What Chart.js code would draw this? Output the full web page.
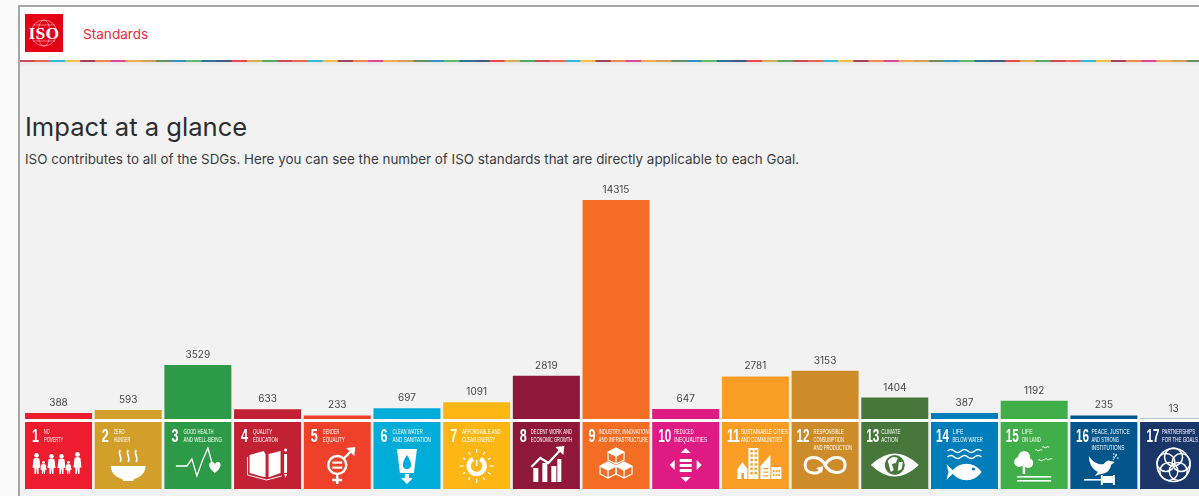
<!DOCTYPE html>
<html><head><meta charset="utf-8">
<script src="https://cdn.jsdelivr.net/npm/chart.js@4"></script>
<style>
html,body{margin:0;padding:0;width:1199px;height:496px;overflow:hidden;background:#fafafa;font-family:Inter,"Noto Sans",sans-serif}
#frame{position:absolute;left:18px;top:5px;width:1190px;height:500px;border-top:2px solid #a6a6a6;border-left:2px solid #a6a6a6;background:#f2f2f2}
#head{position:absolute;left:20px;top:7px;width:1179px;height:53px;background:#fff}
#stripe{position:absolute;left:20px;top:60px;width:1179px;height:2px;opacity:.8}
#shade{position:absolute;left:20px;top:62px;width:1179px;height:5px;background:linear-gradient(#e8e8e8,#f2f2f2)}
#logo{position:absolute;left:25px;top:14px;width:38px;height:38px;background:#e60013;color:#fff;overflow:hidden}
#logo svg{position:absolute;left:0;top:0}
#logo span{position:absolute;left:0;right:0;top:9px;text-align:center;font:bold 17.5px/20px "Liberation Serif",serif;letter-spacing:.2px}
#std{position:absolute;left:83px;top:25px;font-size:13.6px;line-height:18px;color:#ee2b3b}
h1{position:absolute;left:25px;top:110px;margin:0;font-size:25.6px;line-height:34px;font-weight:400;color:#2b2d30}
p{position:absolute;left:25px;top:150px;margin:0;font-size:13.4px;line-height:18px;color:#3a3c3f;white-space:nowrap}
#wrap{position:absolute;left:0;top:0;width:1212px;height:496px}
</style></head><body>
<div id="frame"></div><div id="head"></div><canvas id="stripe" width="1179" height="2"></canvas><div id="shade"></div>
<div id="logo"><svg width="38" height="38" fill="none" stroke="#fff" stroke-opacity=".75" stroke-width=".6"><ellipse cx="19" cy="19" rx="13" ry="13"/><ellipse cx="19" cy="19" rx="6" ry="13"/><path d="M8 11h22M8 27h22"/></svg><span>ISO</span></div>
<div id="std">Standards</div>
<h1>Impact at a glance</h1>
<p>ISO contributes to all of the SDGs. Here you can see the number of ISO standards that are directly applicable to each Goal.</p>
<div id="wrap"><canvas id="c" width="1212" height="496"></canvas></div>
<script>
const goalNumbers=["1","2","3","4","5","6","7","8","9","10","11","12","13","14","15","16","17"];
const goalLabels=[["NO","POVERTY"],["ZERO","HUNGER"],["GOOD HEALTH","AND WELL-BEING"],["QUALITY","EDUCATION"],["GENDER","EQUALITY"],["CLEAN WATER","AND SANITATION"],["AFFORDABLE AND","CLEAN ENERGY"],["DECENT WORK AND","ECONOMIC GROWTH"],["INDUSTRY, INNOVATION","AND INFRASTRUCTURE"],["REDUCED","INEQUALITIES"],["SUSTAINABLE CITIES","AND COMMUNITIES"],["RESPONSIBLE","CONSUMPTION","AND PRODUCTION"],["CLIMATE","ACTION"],["LIFE","BELOW WATER"],["LIFE","ON LAND"],["PEACE, JUSTICE","AND STRONG","INSTITUTIONS"],["PARTNERSHIPS","FOR THE GOALS"]];
const standardsCount=[388,593,3529,633,233,697,1091,2819,14315,647,2781,3153,1404,387,1192,235,13];
const goalColors=["#ed1c2e","#d19f2a","#2d9a47","#c22033","#ef412a","#00add8","#fdb714","#8f1838","#f36e24","#e01a83","#f99d25","#cd8b2a","#48773c","#007dbb","#40ae49","#00558a","#1a3668"];

// header stripe
(function(){const s=document.getElementById('stripe').getContext('2d');
 const w=15.16;for(let i=0;i<90;i++){s.fillStyle=goalColors[(i+3)%17];s.fillRect(i*w-0.5,0,w+.5,2);}})();

function circle(g,x,y,r,fill){g.beginPath();g.arc(x,y,r,0,Math.PI*2);fill?g.fill():g.stroke();}
function poly(g,pts,close){g.beginPath();pts.forEach((p,i)=>i?g.lineTo(p[0],p[1]):g.moveTo(p[0],p[1]));if(close)g.closePath();}
function person(g,x,foot,h,w){const r=h*.11;circle(g,x,foot-h+r,r,true);
 g.beginPath();g.moveTo(x-w,foot-h*.3);g.lineTo(x-w*.75,foot-h*.72);g.quadraticCurveTo(x,foot-h*.82,x+w*.75,foot-h*.72);g.lineTo(x+w,foot-h*.3);g.lineTo(x+w*.55,foot-h*.3);g.lineTo(x+w*.5,foot);g.lineTo(x+.5,foot);g.lineTo(x,foot-h*.35);g.lineTo(x-.5,foot);g.lineTo(x-w*.5,foot);g.lineTo(x-w*.55,foot-h*.3);g.closePath();g.fill();}

const icons=[
 g=>{[[-23,21,4],[-16,13,3],[-8,20,4],[2,20,4],[9,13,3],[18,22,4]].forEach(a=>person(g,a[0]+1,9,a[1],a[2]));},
 g=>{g.beginPath();g.moveTo(-17.5,1);g.lineTo(17.5,1);g.bezierCurveTo(17,10,10,13,6,14);g.lineTo(5,16);g.lineTo(-5,16);g.lineTo(-6,14);g.bezierCurveTo(-10,13,-17,10,-17.5,1);g.fill();
  g.lineWidth=1.6;[-8,0,8].forEach(x=>{g.beginPath();g.moveTo(x,-15);g.bezierCurveTo(x-3,-11,x+3,-8,x,-3);g.stroke();});},
 g=>{g.lineWidth=1.3;poly(g,[[-22,1],[-11,1],[-6,-6],[-1,11],[4,-3],[10,-17],[15,1]]);g.stroke();
  g.beginPath();g.moveTo(17,8);g.bezierCurveTo(10,3,10,-3,14,-3);g.quadraticCurveTo(16,-3,17,-1);g.quadraticCurveTo(18,-3,20,-3);g.bezierCurveTo(24,-3,24,3,17,8);g.fill();},
 g=>{poly(g,[[-18,-10],[-4,-14],[-2,-11],[-2,12],[-4,12],[-18,8]],true);g.fill();poly(g,[[13,-14],[13,8],[2,12],[1,12],[1,-11]],true);g.fill();
  g.lineWidth=1;poly(g,[[-20,-8],[-20,10],[-1,15],[14,11]]);g.stroke();
  g.fillRect(16.5,-11,3,19);poly(g,[[16.5,9],[19.5,9],[18,13]],true);g.fill();circle(g,18,-15,1.5,true);},
 g=>{g.lineWidth=2.4;circle(g,0,0,9,false);g.beginPath();g.moveTo(0,9);g.lineTo(0,19);g.moveTo(-5,15);g.lineTo(5,15);g.moveTo(6,-6);g.lineTo(15,-15);g.stroke();
  poly(g,[[9,-17],[18,-18],[17,-9]],true);g.fill();g.fillRect(-5,-3.5,10,2.2);g.fillRect(-5,1.5,10,2.2);},
 (g,col)=>{poly(g,[[-10,-16],[10,-16],[7,8],[-7,8]],true);g.fill();g.fillStyle=col;g.beginPath();g.moveTo(0,-10);g.bezierCurveTo(5,-3,6,4,0,4);g.bezierCurveTo(-6,4,-5,-3,0,-10);g.fill();g.fillStyle='#fff';g.fillRect(-2,9,4,4);poly(g,[[-6,13],[6,13],[0,19]],true);g.fill();},
 g=>{g.lineWidth=4.5;g.beginPath();g.arc(0,1,8,-Math.PI*.35,Math.PI*1.35);g.stroke();g.lineWidth=1.6;g.beginPath();g.moveTo(0,-5);g.lineTo(0,1);g.stroke();
  g.lineWidth=1.2;for(let a=0;a<12;a++){const t=a*Math.PI/6,r0=13,r1=a%3===0?17:16;g.beginPath();g.moveTo(Math.cos(t)*r0,1+Math.sin(t)*r0);g.lineTo(Math.cos(t)*r1,1+Math.sin(t)*r1);g.stroke();}},
 g=>{g.lineWidth=2.2;poly(g,[[-15,2],[-6,-7],[2,-2],[14,-15]]);g.stroke();poly(g,[[9,-18],[18,-19],[17,-10]],true);g.fill();
  [[-13,3,6,14],[-4,-2,6,19],[5,1,6,16],[11,-6,5,23]].forEach(a=>{g.fillRect(a[0],a[1],a[2]-1,a[3]);});},
 g=>{g.lineWidth=1.2;function cube(x,y){poly(g,[[x,y-8],[x+8,y-4],[x+8,y+4],[x,y+8],[x-8,y+4],[x-8,y-4]],true);g.stroke();poly(g,[[x-8,y-4],[x,y],[x+8,y-4]]);g.stroke();g.beginPath();g.moveTo(x,y);g.lineTo(x,y+8);g.stroke();poly(g,[[x,y-8],[x+8,y-4],[x,y],[x-8,y-4]],true);g.fill();}
  cube(-8,5);cube(8,5);cube(0,-9);},
 g=>{poly(g,[[0,-17],[5,-12],[-5,-12]],true);g.fill();poly(g,[[0,17],[5,12],[-5,12]],true);g.fill();poly(g,[[-16,0],[-11,-5],[-11,5]],true);g.fill();poly(g,[[16,0],[11,-5],[11,5]],true);g.fill();g.fillRect(-6,-6,12,3);g.fillRect(-6,-1,12,3);g.fillRect(-6,4,12,3);},
 (g,col)=>{poly(g,[[-18,4],[-13,-3],[-8,4],[-8,14],[-18,14]],true);g.fill();g.fillRect(-7,-17,10,31);poly(g,[[5,14],[5,1],[15,-10],[15,14]],true);g.fill();g.fillRect(16,2,10,12);
  g.fillStyle=col;for(let r=0;r<6;r++)for(let c=0;c<2;c++)g.fillRect(-5+c*4.2,-15+r*4.4,2.4,2.4);for(let r=0;r<2;r++)for(let c=0;c<3;c++)g.fillRect(17.5+c*2.7,5+r*3.8,1.6,2.2);for(let r=0;r<3;r++)g.fillRect(8,3+r*3.6,5,1.2);g.fillRect(-14,8,2.5,6);},
 g=>{g.lineWidth=3;g.beginPath();g.moveTo(0,0);g.bezierCurveTo(5,-10,20,-10,20,0);g.bezierCurveTo(20,10,5,10,0,0);g.bezierCurveTo(-5,-10,-20,-10,-20,0);g.bezierCurveTo(-20,10,-5,10,-4,4);g.stroke();poly(g,[[-9,3],[-2,1],[-3,8]],true);g.fill();},
 (g,col)=>{g.beginPath();g.moveTo(-24,0);g.quadraticCurveTo(0,-23,24,0);g.quadraticCurveTo(0,23,-24,0);g.fill();g.fillStyle=col;circle(g,0,0,10,true);g.fillStyle='#fff';g.beginPath();g.moveTo(-7,-4);g.quadraticCurveTo(-3,-10,3,-7);g.lineTo(1,-2);g.lineTo(-3,-1);g.lineTo(-1,5);g.lineTo(-4,7);g.closePath();g.fill();g.beginPath();g.moveTo(4,-3);g.lineTo(8,-3);g.lineTo(7,4);g.lineTo(3,6);g.closePath();g.fill();},
 (g,col)=>{g.lineWidth=1.6;[-14,-8].forEach(y=>{g.beginPath();for(let i=0;i<=5;i++){const x=-17+i*6.8;i?g.quadraticCurveTo(x-3.4,y+(i%2?-3:3),x,y):g.moveTo(x,y);}g.stroke();});
  g.beginPath();g.moveTo(-13,7);g.bezierCurveTo(-6,-4,10,-4,17,7);g.bezierCurveTo(10,18,-6,18,-13,7);g.fill();poly(g,[[-18,-1],[-10,7],[-18,15],[-16,7]],true);g.fill();g.fillStyle=col;circle(g,9,4,1.6,true);},
 g=>{circle(g,-10,-8,6,true);circle(g,-15,-3,5,true);circle(g,-6,-2,5,true);g.fillRect(-11.5,0,2.5,9);g.fillRect(-17,11,34,1.6);g.fillRect(-17,15,34,1.6);
  g.lineWidth=1;[[1,-15],[8,-18],[4,-5],[11,-6]].forEach(p=>{g.beginPath();g.moveTo(p[0],p[1]);g.quadraticCurveTo(p[0]+2,p[1]-1,p[0]+3,p[1]+1);g.quadraticCurveTo(p[0]+5,p[1]-1,p[0]+7,p[1]);g.stroke();});},
 g=>{g.translate(0,2);g.beginPath();g.moveTo(-15,-11);g.bezierCurveTo(-10,-3,-3,-2,0,-3);g.quadraticCurveTo(3,-8,7,-6);g.lineTo(11,-5);g.lineTo(7,-2);g.bezierCurveTo(7,3,2,7,-3,7);g.lineTo(-9,9);g.lineTo(-6,5);g.bezierCurveTo(-12,2,-15,-4,-15,-11);g.fill();
  g.lineWidth=.9;g.beginPath();g.moveTo(9,-7);g.quadraticCurveTo(11,-9,13,-13);g.stroke();[[10,-10],[12,-12],[14,-9],[10,-13]].forEach(p=>circle(g,p[0],p[1],.8,true));
  g.fillRect(-20,12,30,1.6);g.fillRect(-1,9,10,7);g.fillRect(-3,8,2,10);g.fillRect(9,8,2,10);},
 g=>{g.lineWidth=1.5;for(let a=0;a<5;a++){const t=-Math.PI/2+a*Math.PI*2/5;circle(g,Math.cos(t)*8,Math.sin(t)*8,9,false);}circle(g,0,0,16.5,false);}
];

const numberOffset=[7,7,7,7,7,7,7,7,6,6,5,5,5,5,5,5.5,6.5];
const labelOffset=[19,19,19,19,19,19,19,18,16,22,19,22,20,21.5,21,21,22];

const tilesPlugin={id:'tiles',afterDatasetsDraw(chart){
 const g=chart.ctx,meta=chart.getDatasetMeta(0),bottom=chart.chartArea.bottom;
 g.save();
 meta.data.forEach((bar,i)=>{
  const w=bar.width,x0=bar.x-w/2;
  g.fillStyle='#fff';g.fillRect(x0,bottom,w,3);
  g.fillStyle=goalColors[i];g.fillRect(x0,bottom+3,w,67);
  g.fillStyle='#fff';g.textBaseline='alphabetic';g.textAlign='left';
  const two=goalNumbers[i].length>1;
  g.font='bold 19px "Liberation Sans Narrow","Liberation Sans",sans-serif';
  g.fillText(goalNumbers[i],x0+numberOffset[i],bottom+22.7,two?13:7);
  const lines=goalLabels[i],lx=x0+labelOffset[i];
  g.font='7.6px "Liberation Sans Narrow","Liberation Sans",sans-serif';
  const maxW=x0+w-lx-1;
  lines.forEach((t,k)=>{
   const target=Math.min(maxW,t.length*2.75),natural=g.measureText(t).width;
   g.save();g.translate(lx,bottom+14.5+k*8.2);g.scale(target/natural,1);g.fillText(t,0,0);g.restore();
  });
  g.save();g.translate(bar.x,bottom+46);g.fillStyle='#fff';g.strokeStyle='#fff';g.lineCap='butt';g.lineJoin='miter';
  icons[i](g,goalColors[i]);g.restore();
 });
 g.fillStyle='#454545';g.font='400 10px Inter,"Noto Sans",sans-serif';g.textAlign='center';g.textBaseline='middle';
 meta.data.forEach((bar,i)=>g.fillText(String(standardsCount[i]),bar.x,bar.y-10));
 g.restore();
}};

Chart.defaults.font.family='Inter';
new Chart(document.getElementById('c'),{type:'bar',
 data:{labels:goalNumbers,datasets:[{data:standardsCount,backgroundColor:goalColors,borderWidth:0,categoryPercentage:1,barPercentage:.961}]},
 options:{responsive:false,animation:false,
  layout:{padding:{left:23.65,right:3.6,top:200,bottom:77}},
  plugins:{legend:{display:false},tooltip:{enabled:false}},
  scales:{x:{display:false},y:{display:false,min:0,max:14315}}},
 plugins:[tilesPlugin]});
</script>
</body></html>
